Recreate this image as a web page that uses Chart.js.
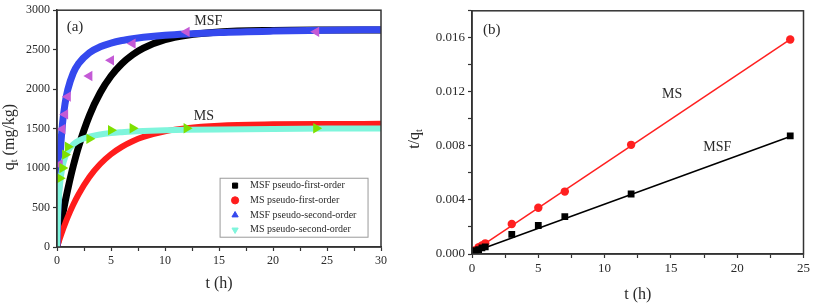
<!DOCTYPE html>
<html>
<head>
<meta charset="utf-8">
<script src="https://cdn.jsdelivr.net/npm/chart.js@4.4.1/dist/chart.umd.min.js"></script>
<style>
  body { margin: 0; background: #fff; }
  .wrap { position: absolute; top: 0; }
</style>
</head>
<body>
<div class="wrap" style="left:0"><canvas id="chartA" width="400" height="304"></canvas></div>
<div class="wrap" style="left:400px"><canvas id="chartB" width="413" height="304"></canvas></div>
<script>
// (a) fitted kinetic curves
const curveT = [0, 0.05, 0.1, 0.25, 0.5, 0.75, 1, 1.5, 2, 3, 4, 5, 6, 7, 8, 10, 12, 15, 20, 25, 30]
const msfFirst = [0, 42, 84, 205, 395, 571, 733, 1023, 1271, 1665, 1954, 2166, 2322, 2436, 2520, 2626, 2683, 2724, 2744, 2749, 2750]
const msFirst = [0, 22, 43, 105, 204, 295, 381, 535, 669, 887, 1051, 1175, 1269, 1340, 1394, 1465, 1506, 1537, 1554, 1559, 1560]
const msfSecond = [0, 310, 558, 1073, 1550, 1820, 1993, 2203, 2325, 2462, 2536, 2583, 2616, 2639, 2657, 2683, 2700, 2718, 2735, 2746, 2753]
const msSecond = [0, 252, 433, 758, 1010, 1136, 1212, 1299, 1347, 1398, 1426, 1443, 1454, 1463, 1469, 1478, 1484, 1490, 1496, 1500, 1502]

// (a) measured points
const expT = [0.25, 0.5, 0.75, 1, 3, 5, 7, 12, 24]
const msfQ = [1045, 1494, 1680, 1905, 2166, 2365, 2577, 2726, 2726]
const msQ = [870, 1000, 1170, 1270, 1370, 1480, 1505, 1505, 1505]

// (b) t/qt linear plot
const msfTq = [0.00024, 0.00033, 0.00045, 0.00053, 0.00145, 0.00211, 0.00276, 0.00444, 0.00875]
const msTq = [0.00029, 0.00050, 0.00064, 0.00079, 0.00222, 0.00342, 0.00462, 0.00808, 0.01588]
const fitT = [0.1, 24]
const msfFit = [0.00015, 0.00870]
const msFit = [0.00020, 0.01588]

const legendLabels = ['MSF pseudo-first-order', 'MS pseudo-first-order', 'MSF pseudo-second-order', 'MS pseudo-second-order']

const SERIF = '"Liberation Serif", "Times New Roman", serif'
const INK = '#2a2a2a'
const xy = (xs, ys) => xs.map((x, i) => ({ x, y: ys[i] }))

// draws text made of parts, some of them subscripts
function drawParts(ctx, parts, size) {
  const widths = parts.map((p) => {
    ctx.font = (p.sub ? size * 0.62 : size) + 'px ' + SERIF
    return ctx.measureText(p.t).width
  })
  let x = -widths.reduce((a, b) => a + b, 0) / 2
  parts.forEach((p, i) => {
    ctx.font = (p.sub ? size * 0.62 : size) + 'px ' + SERIF
    ctx.fillText(p.t, x, p.sub ? size * 0.3 : 0)
    x += widths[i]
  })
}

const decor = {
  id: 'decor',
  afterDatasetsDraw(chart, args, opts) {
    const { ctx, chartArea: ca, scales } = chart
    const sx = scales.x, sy = scales.y
    ctx.save()
    ctx.strokeStyle = '#333'
    ctx.lineWidth = 1.5
    ctx.strokeRect(ca.left, ca.top, ca.right - ca.left, ca.bottom - ca.top)

    ctx.fillStyle = INK
    ctx.textBaseline = 'middle'
    ;(opts.notes || []).forEach((n) => {
      ctx.font = n.size + 'px ' + SERIF
      ctx.textAlign = n.align || 'center'
      ctx.fillText(n.text, sx.getPixelForValue(n.x), sy.getPixelForValue(n.y))
    })

    // rotated y title with subscript
    if (opts.yTitle) {
      ctx.save()
      ctx.translate(opts.yTitle.x, opts.yTitle.y)
      ctx.rotate(-Math.PI / 2)
      ctx.textAlign = 'left'
      drawParts(ctx, opts.yTitle.parts, opts.yTitle.size)
      ctx.restore()
    }

    if (opts.legend) {
      const L = opts.legend
      const x0 = sx.getPixelForValue(L.x0), x1 = sx.getPixelForValue(L.x1)
      const y0 = sy.getPixelForValue(L.y0), y1 = sy.getPixelForValue(L.y1)
      ctx.fillStyle = '#fff'
      ctx.fillRect(x0, y0, x1 - x0, y1 - y0)
      ctx.strokeStyle = '#9a9a9a'
      ctx.lineWidth = 1
      ctx.strokeRect(x0, y0, x1 - x0, y1 - y0)
      const rowH = (y1 - y0) / L.items.length
      L.items.forEach((it, i) => {
        const cy = y0 + rowH * (i + 0.5)
        ctx.fillStyle = it.color
        ctx.strokeStyle = it.color
        Chart.helpers.drawPoint(ctx, { pointStyle: it.style, radius: 3.6, rotation: it.rot || 0, borderWidth: 1 }, x0 + 15, cy)
        ctx.fillStyle = INK
        ctx.font = '10px ' + SERIF
        ctx.textAlign = 'left'
        ctx.fillText(it.label, x0 + 30, cy)
      })
    }
    ctx.restore()
  },
}

function axis(min, max, step, label, size, titleText, titlePad, fit) {
  return {
    type: 'linear', min, max,
    border: { display: true, color: '#333', width: 1.5 },
    grid: { drawOnChartArea: false, tickLength: 4, color: '#333', tickWidth: 1.2 },
    ticks: { stepSize: step, color: INK, font: { family: SERIF, size }, padding: 3, callback: label, maxRotation: 0, autoSkip: false },
    title: titleText ? { display: true, text: titleText, color: INK, font: { family: SERIF, size: 16 }, padding: { top: 0, bottom: titlePad } } : { display: false },
    afterFit: fit,
  }
}

const curve = (label, ys, color, w, order) => ({
  label, data: xy(curveT, ys), showLine: true, borderColor: color, backgroundColor: color,
  borderWidth: w, pointRadius: 0, cubicInterpolationMode: 'monotone', order,
})
const marks = (ys, xs, color, style, rot, r, order) => ({
  data: xy(xs, ys), showLine: false, pointStyle: style, pointRotation: rot, pointRadius: r,
  backgroundColor: color, borderColor: color, borderWidth: 0, order,
})

new Chart(document.getElementById('chartA'), {
  type: 'scatter',
  data: {
    datasets: [
      curve(legendLabels[0], msfFirst, '#000000', 7, 5),
      curve(legendLabels[1], msFirst, '#ff1c1c', 6, 4),
      curve(legendLabels[2], msfSecond, '#3549ee', 7, 3),
      curve(legendLabels[3], msSecond, '#7ff5dc', 6, 2),
      marks(msfQ, expT, '#c45ad6', 'triangle', -90, 6, 1),
      marks(msQ, expT, '#7ee000', 'triangle', 90, 6, 0),
    ],
  },
  plugins: [decor],
  options: {
    responsive: false, animation: false,
    layout: { padding: { top: 6, right: 19, left: 0, bottom: 0 } },
    scales: {
      x: axis(0, 30, 2.5, (v) => (v % 5 === 0 ? v : ''), 12, 't (h)', 11, (s) => { s.height = 57 }),
      y: axis(0, 3000, 500, (v) => v, 12, null, 0, (s) => { s.width = 57 }),
    },
    plugins: {
      legend: { display: false }, tooltip: { enabled: false },
      decor: {
        notes: [
          { text: '(a)', x: 0.9, y: 2788, size: 15, align: 'left' },
          { text: 'MSF', x: 14.0, y: 2863, size: 14 },
          { text: 'MS', x: 13.6, y: 1656, size: 14 },
        ],
        yTitle: { x: 10, y: 137, size: 16, parts: [{ t: 'q' }, { t: 't', sub: true }, { t: ' (mg/kg)' }] },
        legend: {
          x0: 15.1, x1: 28.8, y0: 871, y1: 124,
          items: [
            { label: legendLabels[0], color: '#000', style: 'rect' },
            { label: legendLabels[1], color: '#ff1c1c', style: 'circle' },
            { label: legendLabels[2], color: '#3549ee', style: 'triangle' },
            { label: legendLabels[3], color: '#7ff5dc', style: 'triangle', rot: 180 },
          ],
        },
      },
    },
  },
})

new Chart(document.getElementById('chartB'), {
  type: 'scatter',
  data: {
    datasets: [
      { data: xy(fitT, msFit), showLine: true, borderColor: '#ff2020', borderWidth: 1.5, pointRadius: 0, order: 3 },
      { data: xy(fitT, msfFit), showLine: true, borderColor: '#000', borderWidth: 1.5, pointRadius: 0, order: 2 },
      marks(msTq, expT, '#ff2020', 'circle', 0, 4.2, 1),
      marks(msfTq, expT, '#000', 'rect', 0, 4.8, 0),
    ],
  },
  plugins: [decor],
  options: {
    responsive: false, animation: false,
    layout: { padding: { top: 7, right: 9, left: 0, bottom: 0 } },
    scales: {
      x: axis(0, 25, 2.5, (v) => (v % 5 === 0 ? v : ''), 13, 't (h)', 0, (s) => { s.height = 50 }),
      y: axis(0, 0.018, 0.002, (v) => (Math.round(v * 1000) % 4 === 0 ? v.toFixed(3) : ''), 13, null, 0, (s) => { s.width = 72 }),
    },
    plugins: {
      legend: { display: false }, tooltip: { enabled: false },
      decor: {
        notes: [
          { text: '(b)', x: 0.83, y: 0.01654, size: 15, align: 'left' },
          { text: 'MS', x: 15.1, y: 0.0118, size: 14 },
          { text: 'MSF', x: 18.5, y: 0.00787, size: 14 },
        ],
        yTitle: { x: 15, y: 139, size: 16, parts: [{ t: 't/q' }, { t: 't', sub: true }] },
      },
    },
  },
})
</script>
</body>
</html>
